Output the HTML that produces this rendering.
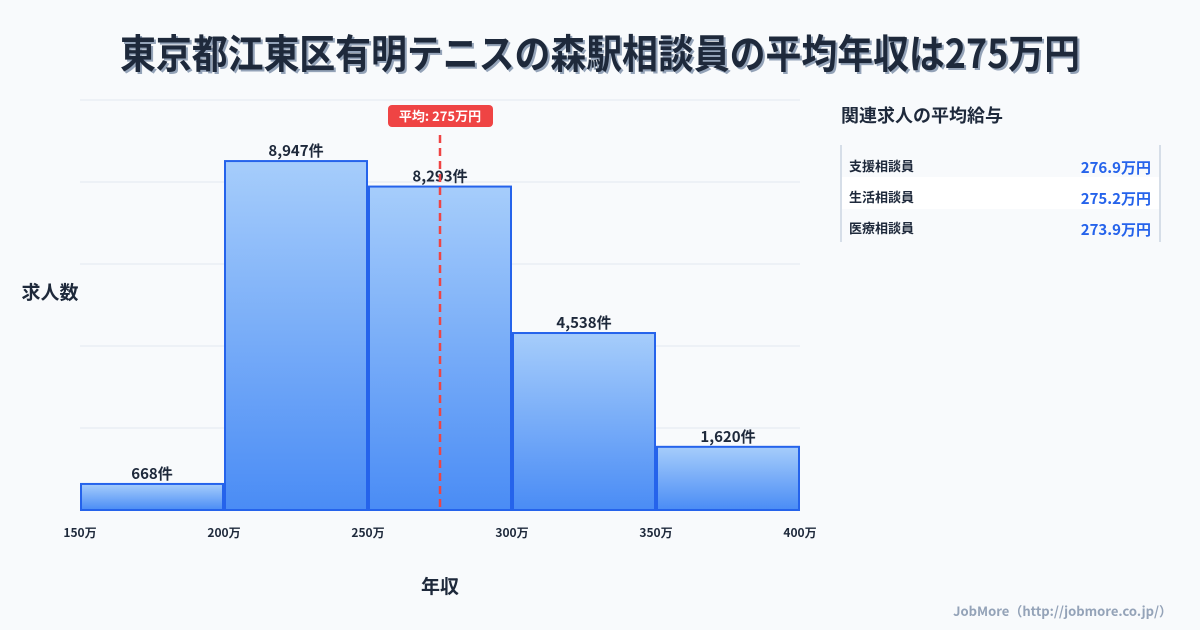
<!DOCTYPE html>
<html><head><meta charset="utf-8">
<style>
body{margin:0;background:#f8fafc;}
svg{display:block;font-family:"Noto Sans CJK JP","Liberation Sans",sans-serif;}
</style></head>
<body>
<svg width="1200" height="630" viewBox="0 0 1200 630">
<defs>
<linearGradient id="bg" x1="0" y1="0" x2="0" y2="1">
<stop offset="0" stop-color="#a6cdfb"/><stop offset="1" stop-color="#4a8cf5"/>
</linearGradient>
</defs>
<rect width="1200" height="630" fill="#f8fafc"/>
<text x="600" y="68" text-anchor="middle" font-size="40" font-weight="bold" fill="#94a3b8" textLength="960" lengthAdjust="spacingAndGlyphs" transform="translate(2,2)">東京都江東区有明テニスの森駅相談員の平均年収は275万円</text>
<text x="600" y="68" text-anchor="middle" font-size="40" font-weight="bold" fill="#1e293b" textLength="960" lengthAdjust="spacingAndGlyphs">東京都江東区有明テニスの森駅相談員の平均年収は275万円</text>
<g id="grid"></g>
<g id="bars"></g>
<g id="xticks"></g>
<text x="50" y="299" text-anchor="middle" font-size="19" font-weight="bold" fill="#1e293b">求人数</text>
<text x="440" y="593" text-anchor="middle" font-size="19" font-weight="bold" fill="#1e293b">年収</text>
<g id="mean"></g>
<g>
<text x="841" y="122" font-size="18" font-weight="bold" fill="#1e293b">関連求人の平均給与</text>
<line x1="841" y1="145" x2="841" y2="242" stroke="#cbd5e1" stroke-width="1.5"/>
<line x1="1160" y1="145" x2="1160" y2="242" stroke="#cbd5e1" stroke-width="1.5"/>
<rect x="842" y="177" width="317" height="32" fill="#ffffff"/>
<text x="849" y="171" font-size="13" font-weight="bold" fill="#1e293b">支援相談員</text>
<text x="1151" y="173" text-anchor="end" font-size="15" font-weight="bold" fill="#2563eb">276.9万円</text>
<text x="849" y="202" font-size="13" font-weight="bold" fill="#1e293b">生活相談員</text>
<text x="1151" y="204" text-anchor="end" font-size="15" font-weight="bold" fill="#2563eb">275.2万円</text>
<text x="849" y="233" font-size="13" font-weight="bold" fill="#1e293b">医療相談員</text>
<text x="1151" y="235" text-anchor="end" font-size="15" font-weight="bold" fill="#2563eb">273.9万円</text>
</g>
<text x="1172" y="616" text-anchor="end" font-size="13" font-weight="bold" fill="#94a3b8">JobMore（http://jobmore.co.jp/）</text>
</svg>
<script>
const binStarts=[150,200,250,300,350];
const binWidth=50;
const counts=[668,8947,8293,4538,1620];
const countLabels=["668件","8,947件","8,293件","4,538件","1,620件"];
const xTicks=[150,200,250,300,350,400];
const meanValue=275;
const meanLabel="平均: 275万円";
const NS="http://www.w3.org/2000/svg";
const X0=80,X1=800,Y0=510,Y1=100;
const xMin=150,xMax=400,yMax=Math.max(...counts)*1.175;
const xs=v=>X0+(v-xMin)/(xMax-xMin)*(X1-X0);
const ys=v=>Y0-v/yMax*(Y0-Y1);
function mk(t,a,p){const e=document.createElementNS(NS,t);for(const k in a)e.setAttribute(k,a[k]);p.appendChild(e);return e;}
const grid=document.getElementById('grid');
for(let i=0;i<=5;i++){const y=Y0-i*(Y0-Y1)/5;const l=mk('line',{x1:X0,x2:X1,y1:y,y2:y,stroke:'#e2e8f0','stroke-width':1},grid);

}
const bars=document.getElementById('bars');
counts.forEach((c,i)=>{const xa=xs(binStarts[i])+1,xb=xs(binStarts[i]+binWidth)-1,y=ys(c);
const r=mk('rect',{x:xa,y:y,width:xb-xa,height:Y0-y,fill:'url(#bg)',stroke:'#2563eb','stroke-width':2},bars);


const t=mk('text',{x:(xa+xb)/2,y:y-5,'text-anchor':'middle','font-size':15,'font-weight':'bold',fill:'#1e293b'},bars);
t.textContent=countLabels[i];

});
const xt=document.getElementById('xticks');
xTicks.forEach(v=>{const t=mk('text',{x:xs(v),y:537,'text-anchor':'middle','font-size':12,'font-weight':'bold',fill:'#1e293b'},xt);
t.textContent=v+'万';

});
const m=document.getElementById('mean');const mx=xs(meanValue);
const ml=mk('line',{x1:mx,x2:mx,y1:135,y2:Y0,stroke:'#ef4444','stroke-width':2.5,'stroke-dasharray':'8,5'},m);


const mb=mk('rect',{x:mx-52,y:105,width:105,height:22,rx:4,fill:'#ef4444'},m);


const mt=mk('text',{x:mx,y:121,'text-anchor':'middle','font-size':13,'font-weight':'bold',fill:'#ffffff'},m);
mt.textContent=meanLabel;


</script>
</body></html>
